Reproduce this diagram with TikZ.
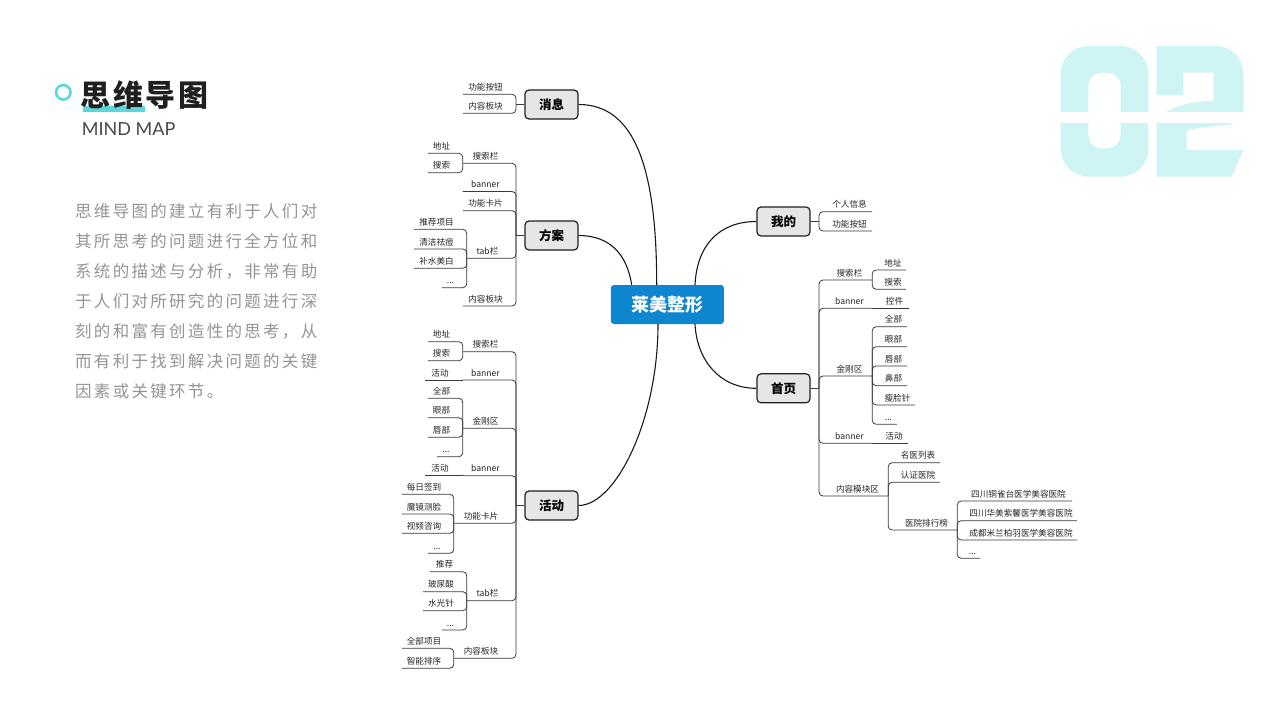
\documentclass[tikz,border=0pt]{standalone}
\usepackage{fontspec}
\setmainfont{Noto Sans CJK SC}
\newfontfamily\latof{Lato}
\definecolor{cyanmk}{HTML}{5CD6DA}
\definecolor{bignum}{HTML}{CFF4F4}
\definecolor{rootblue}{HTML}{0D85CF}
\definecolor{topicfill}{HTML}{E6E6E6}
\definecolor{linec}{HTML}{3A3A3A}
\definecolor{paragray}{HTML}{959595}
\newcommand\LeafL[5]{\node[lleaf,minimum width={#3-#2}] (#1) at ({(#2+#3)/2},#4) {#5};}
\newcommand\LeafR[5]{\node[rleaf,minimum width={#3-#2}] (#1) at ({(#2+#3)/2},#4) {#5};}
\newcommand\spreadtext[2]{\def\spreadsep{#1}\spreadaux#2\relax}
\def\spreadaux#1{\ifx#1\relax\else #1\kern\spreadsep\relax\expandafter\spreadaux\fi}
\tikzset{
  rootbox/.style={fill=rootblue, rounded corners=3pt, minimum width=113pt, minimum height=39pt,
    inner sep=0pt, text=white, font=\fontsize{18}{20}\selectfont\bfseries},
  topic/.style={draw=black!88, line width=1.2pt, fill=topicfill, rounded corners=4pt,
    minimum width=53pt, minimum height=29pt, inner sep=0pt, font=\fontsize{12.5}{14}\selectfont\bfseries},
  leafbase/.style={anchor=south, inner xsep=0pt, inner ysep=3.6pt, text height=6.6pt, text depth=0pt,
    font=\fontsize{8.6}{10}\selectfont, text=black!85},
  lleaf/.style={leafbase, execute at begin node={\kern-8pt}},
  rleaf/.style={leafbase, execute at begin node={\kern8pt}},
  br/.style={draw=linec, line width=0.8pt, rounded corners=4pt},
  mainc/.style={draw=black!90, line width=1.1pt},
  paraline/.style={anchor=base west, inner sep=0pt, text=paragray, font=\fontsize{16.5}{18}\selectfont},
}
\begin{document}
\begin{tikzpicture}[x=1pt,y=-1pt]
\path[use as bounding box, fill=white] (0,0) rectangle (1280,720);

% ---------- big 02 ----------
\fill[bignum, even odd rule] [rounded corners=28pt] (1060.7,46) rectangle (1148.3,176.7)
  [rounded corners=13pt] (1088.3,72.7) rectangle (1120.7,148.3);
\fill[bignum] (1156.7,46) -- (1216,46) .. controls (1231,46) and (1243.3,58) .. (1243.3,73)
  -- (1243.3,113.3) -- (1231.7,124) .. controls (1215,127) and (1195,127) .. (1186.7,131)
  -- (1186.7,150) -- (1243.3,150) -- (1231.7,176.7) -- (1156.7,176.7) -- (1156.7,120)
  -- (1166.7,111.7) .. controls (1180,103) and (1200,101.5) .. (1213.3,100.7)
  -- (1213.3,72.7) -- (1183.3,72.7) -- (1183.3,95) -- (1156.7,95) -- cycle;
\fill[white] (1055,111.7) rectangle (1250,123.3);

% ---------- title ----------
\draw[cyanmk, line width=2.6pt] (63.3,92.3) circle[radius=7.2];
\fill[cyanmk] (83.3,106) rectangle (145,111.7);
\node[anchor=base west, inner sep=0pt, text=black!88, font=\fontsize{30}{32}\selectfont\bfseries] (title) at (80.5,106) {\spreadtext{2.6pt}{思维导图}};
\node[anchor=base west, inner sep=0pt, text=black!72, font=\latof\fontsize{18}{20}\selectfont] (sub) at (81.7,135) {MIND MAP};

\node[paraline] (p1) at (75,217) {\spreadtext{2.3pt}{思维导图的建立有利于人们对}};
\node[paraline] (p2) at (75,247) {\spreadtext{2.3pt}{其所思考的问题进行全方位和}};
\node[paraline] (p3) at (75,277) {\spreadtext{2.3pt}{系统的描述与分析，非常有助}};
\node[paraline] (p4) at (75,307) {\spreadtext{2.3pt}{于人们对所研究的问题进行深}};
\node[paraline] (p5) at (75,337) {\spreadtext{2.3pt}{刻的和富有创造性的思考，从}};
\node[paraline] (p6) at (75,367) {\spreadtext{2.3pt}{而有利于找到解决问题的关键}};
\node[paraline] (p7) at (75,397) {\spreadtext{2.3pt}{因素或关键环节。}};

% ---------- root & topics ----------
\node[rootbox] (root) at (667.4,304.5) {莱美整形};
\node[topic] (xx) at (551.5,104.5) {消息};
\node[topic] (fa) at (551.5,235.5) {方案};
\node[topic] (hd) at (551.5,505.5) {活动};
\node[topic] (wd) at (783.5,221.5) {我的};
\node[topic] (sy) at (783.5,388.3) {首页};

\draw[mainc] (xx.east) .. controls +(57,0) and +(0,-115) .. ([xshift=-10.7pt]root.north);
\draw[mainc] (fa.east) .. controls +(30,0) and +(-5,-32) .. ([xshift=-35.7pt]root.north);
\draw[mainc] (hd.east) .. controls +(37,0) and +(0,96) .. ([xshift=-9.4pt]root.south);
\draw[mainc] (wd.west) .. controls +(-37,0) and +(2,-40) .. ([xshift=27.6pt]root.north);
\draw[mainc] (sy.west) .. controls +(-37,0) and +(2,36) .. ([xshift=27.6pt]root.south);

% ---------- 消息 ----------
\coordinate (jxx) at (516,104.5);
\LeafL{xx1}{463}{516}{94.3}{功能按钮}
\LeafL{xx2}{463}{516}{113.3}{内容板块}
\draw[br] (xx.west) -- (jxx);
\foreach \c in {xx1,xx2} \draw[br] (jxx) |- (\c.south west);

% ---------- 方案 ----------
\coordinate (jfa) at (516,235.5);
\LeafL{fa1}{463}{516}{163.3}{搜索栏}
\LeafL{fa11}{428}{463}{153.3}{地址}
\LeafL{fa12}{428}{463}{172.7}{搜索}
\LeafL{fa2}{463}{516}{191.5}{banner}
\LeafL{fa3}{463}{516}{210.7}{功能卡片}
\LeafL{fa4}{467}{516}{258.3}{tab栏}
\LeafL{fa41}{414}{467}{229.3}{推荐项目}
\LeafL{fa42}{414}{467}{249}{清洁祛痘}
\LeafL{fa43}{414}{467}{268.3}{补水美白}
\LeafL{fa44}{442}{467}{287.7}{...}
\LeafL{fa5}{463}{516}{306}{内容板块}
\draw[br] (fa.west) -- (jfa);
\foreach \c in {fa1,fa2,fa3,fa4,fa5} \draw[br] (jfa) |- (\c.south west);
\foreach \c in {fa11,fa12} \draw[br] (fa1.south west) |- (\c.south west);
\foreach \c in {fa41,fa42,fa43,fa44} \draw[br] (fa4.south west) |- (\c.south west);

% ---------- 活动 ----------
\coordinate (jhd) at (516,505.5);
\LeafL{hd1}{463}{516}{351.7}{搜索栏}
\LeafL{hd11}{428}{463}{341.7}{地址}
\LeafL{hd12}{428}{463}{360.7}{搜索}
\LeafL{hd2}{463}{516}{380}{banner}
\LeafL{hd21}{425}{463}{380}{活动}
\LeafL{hd3}{463}{516}{428.3}{金刚区}
\LeafL{hd31}{428}{463}{398.3}{全部}
\LeafL{hd32}{428}{463}{417.7}{眼部}
\LeafL{hd33}{428}{463}{437.3}{唇部}
\LeafL{hd34}{437}{463}{456.7}{...}
\LeafL{hd4}{463}{516}{475.7}{banner}
\LeafL{hd41}{425}{463}{475.7}{活动}
\LeafL{hd5}{454}{516}{523.3}{功能卡片}
\LeafL{hd51}{402}{454}{494.3}{每日签到}
\LeafL{hd52}{402}{454}{514}{魔镜测脸}
\LeafL{hd53}{402}{454}{533.3}{视频咨询}
\LeafL{hd54}{428}{454}{553.3}{...}
\LeafL{hd6}{467}{516}{600.7}{tab栏}
\LeafL{hd61}{430}{467}{571.7}{推荐}
\LeafL{hd62}{423}{467}{591.7}{玻尿酸}
\LeafL{hd63}{423}{467}{610.7}{水光针}
\LeafL{hd64}{442}{467}{630}{...}
\LeafL{hd7}{454}{516}{658.3}{内容板块}
\LeafL{hd71}{402}{454}{648.3}{全部项目}
\LeafL{hd72}{402}{454}{668.3}{智能排序}
\draw[br] (hd.west) -- (jhd);
\foreach \c in {hd1,hd2,hd3,hd4,hd5,hd6,hd7} \draw[br] (jhd) |- (\c.south west);
\foreach \c in {hd11,hd12} \draw[br] (hd1.south west) |- (\c.south west);
\draw[br] (hd2.south west) -- (hd21.south west);
\foreach \c in {hd31,hd32,hd33,hd34} \draw[br] (hd3.south west) |- (\c.south west);
\draw[br] (hd4.south west) -- (hd41.south west);
\foreach \c in {hd51,hd52,hd53,hd54} \draw[br] (hd5.south west) |- (\c.south west);
\foreach \c in {hd61,hd62,hd63,hd64} \draw[br] (hd6.south west) |- (\c.south west);
\foreach \c in {hd71,hd72} \draw[br] (hd7.south west) |- (\c.south west);

% ---------- 我的 ----------
\coordinate (jwd) at (819,221.5);
\LeafR{wd1}{819}{872}{211.7}{个人信息}
\LeafR{wd2}{819}{872}{231}{功能按钮}
\draw[br] (wd.east) -- (jwd);
\foreach \c in {wd1,wd2} \draw[br] (jwd) |- (\c.south east);

% ---------- 首页 ----------
\coordinate (jsy) at (819,388.3);
\LeafR{sy1}{819}{872}{280}{搜索栏}
\LeafR{sy11}{872}{906}{270}{地址}
\LeafR{sy12}{872}{906}{289.3}{搜索}
\LeafR{sy2}{819}{872}{308.3}{banner}
\LeafR{sy21}{872}{909}{308.3}{控件}
\LeafR{sy3}{819}{872}{376}{金刚区}
\LeafR{sy31}{872}{907}{326.7}{全部}
\LeafR{sy32}{872}{907}{346.7}{眼部}
\LeafR{sy33}{872}{907}{366}{唇部}
\LeafR{sy34}{872}{907}{385.7}{鼻部}
\LeafR{sy35}{872}{915}{405}{瘦脸针}
\LeafR{sy36}{872}{897}{424.3}{...}
\LeafR{sy4}{819}{872}{443.3}{banner}
\LeafR{sy41}{872}{908}{443.3}{活动}
\LeafR{sy5}{819}{888}{496}{内容模块区}
\LeafR{sy51}{888}{940}{462.7}{名医列表}
\LeafR{sy52}{888}{940}{482.3}{认证医院}
\LeafR{sy53}{888}{957}{530}{医院排行榜}
\LeafR{sy531}{957}{1072}{501}{四川铜雀台医学美容医院}
\LeafR{sy532}{957}{1077}{520.7}{四川华美紫馨医学美容医院}
\LeafR{sy533}{957}{1077}{540}{成都米兰柏羽医学美容医院}
\LeafR{sy534}{957}{980}{558.3}{...}
\draw[br] (sy.east) -- (jsy);
\foreach \c in {sy1,sy2,sy3,sy4,sy5} \draw[br] (jsy) |- (\c.south east);
\foreach \c in {sy11,sy12} \draw[br] (sy1.south east) |- (\c.south east);
\draw[br] (sy2.south east) -- (sy21.south east);
\foreach \c in {sy31,sy32,sy33,sy34,sy35,sy36} \draw[br] (sy3.south east) |- (\c.south east);
\draw[br] (sy4.south east) -- (sy41.south east);
\foreach \c in {sy51,sy52,sy53} \draw[br] (sy5.south east) |- (\c.south east);
\foreach \c in {sy531,sy532,sy533,sy534} \draw[br] (sy53.south east) |- (\c.south east);
\end{tikzpicture}
\end{document}
